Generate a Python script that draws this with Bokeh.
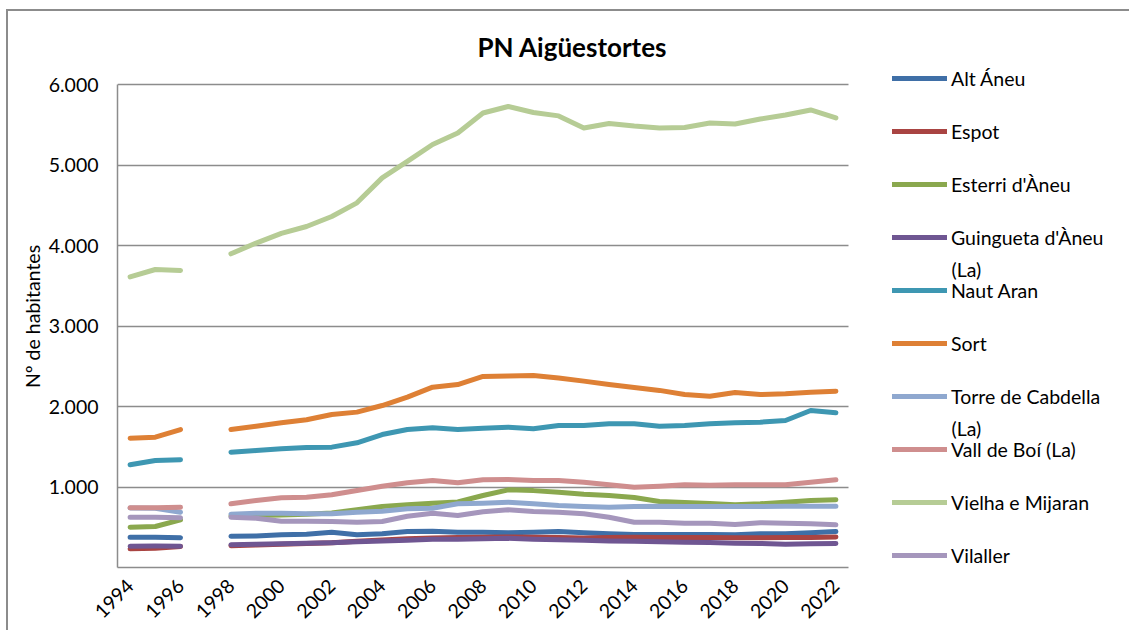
import math
from bokeh.plotting import figure
from bokeh.models import Range1d, FixedTicker, Legend, LegendItem, Label
from bokeh.embed import file_html
from bokeh.resources import INLINE

NA = float("nan")
years = list(range(1994, 2023))

alt_aneu = [377, 377, 369, NA, 389, 392, 406, 414, 439, 406, 418, 447, 451, 439, 437,
            431, 439, 447, 431, 418, 410, 410, 410, 410, 406, 418, 418, 431, 447]
espot = [232, 240, 262, NA, 270, 280, 290, 298, 308, 325, 343, 358, 368, 372, 375,
         380, 375, 372, 368, 372, 376, 374, 372, 374, 370, 370, 372, 374, 380]
esterri_daneu = [501, 509, 592, NA, 640, 645, 652, 660, 678, 717, 758, 779, 799, 815, 894,
                 965, 955, 935, 910, 894, 870, 820, 808, 795, 780, 791, 811, 832, 841]
guingueta_daneu = [265, 268, 265, NA, 282, 290, 296, 302, 308, 320, 330, 340, 350, 352, 358,
                   362, 352, 345, 338, 330, 325, 320, 315, 312, 302, 298, 290, 296, 298]
naut_aran = [1276, 1329, 1338, NA, 1433, 1453, 1474, 1490, 1495, 1549, 1652, 1714, 1735, 1714, 1731,
             1743, 1723, 1764, 1764, 1785, 1785, 1755, 1764, 1785, 1797, 1805, 1826, 1950, 1922]
sort = [1606, 1619, 1714, NA, 1714, 1755, 1797, 1835, 1900, 1930, 2012, 2116, 2240, 2273, 2373,
        2380, 2385, 2355, 2315, 2273, 2236, 2200, 2149, 2128, 2174, 2149, 2157, 2178, 2190]
torre_de_cabdella = [740, 735, 687, NA, 662, 675, 675, 667, 667, 687, 700, 729, 737, 791, 799,
                     811, 791, 770, 758, 749, 758, 762, 758, 758, 758, 758, 762, 762, 762]
vall_de_boi = [741, 741, 749, NA, 791, 832, 866, 873, 903, 957, 1010, 1052, 1081, 1052, 1089,
               1093, 1081, 1081, 1060, 1027, 998, 1010, 1027, 1022, 1027, 1027, 1027, 1060, 1089]
vielha_e_mijaran = [3610, 3702, 3690, NA, 3897, 4030, 4150, 4236, 4360, 4530, 4840, 5045, 5255, 5398, 5646,
                    5727, 5652, 5610, 5460, 5515, 5484, 5460, 5466, 5522, 5509, 5571, 5621, 5684, 5584]
vilaller = [625, 625, 617, NA, 625, 613, 575, 575, 571, 563, 571, 637, 675, 646, 692,
            717, 696, 687, 667, 625, 563, 563, 551, 551, 534, 555, 551, 542, 530]

series_names = ["Alt Áneu", "Espot", "Esterri d'Àneu", "Guingueta d'Àneu (La)", "Naut Aran",
                "Sort", "Torre de Cabdella (La)", "Vall de Boí (La)", "Vielha e Mijaran", "Vilaller"]
series_values = [alt_aneu, espot, esterri_daneu, guingueta_daneu, naut_aran,
                 sort, torre_de_cabdella, vall_de_boi, vielha_e_mijaran, vilaller]
series_colors = ["#3F6FA7", "#A94442", "#8AA84E", "#6F5692", "#3E97B2",
                 "#DE8035", "#8FA8CF", "#CF8E8E", "#B6CC95", "#A596BC"]

x_ticks = [1994, 1996, 1998, 2000, 2002, 2004, 2006, 2008, 2010, 2012, 2014, 2016, 2018, 2020, 2022]
x_tick_labels = ["1994", "1996", "1998", "2000", "2002", "2004", "2006", "2008",
                 "2010", "2012", "2014", "2016", "2018", "2020", "2022"]
y_ticks = [0, 1000, 2000, 3000, 4000, 5000, 6000]
y_tick_labels = ["", "1.000", "2.000", "3.000", "4.000", "5.000", "6.000"]

title_text = "PN Aigüestortes"
y_axis_title = "Nº de habitantes"

# ---- layout constants (canvas pixels) ----
W, H = 1123, 621
PLOT_L, PLOT_T, PLOT_W, PLOT_H = 109, 73, 731, 483   # data area of the chart
X0, X1 = 1993.5, 2022.5
Y0, Y1 = 0, 6000
FT = 54                                              # frame top (room for legend top)
FL = PLOT_L
FW = W - FL
FB = H - (PLOT_T + PLOT_H)
FH = PLOT_H + (PLOT_T - FT)
X_END = X0 + (X1 - X0) * FW / PLOT_W
Y_END = Y0 + (Y1 - Y0) * FH / PLOT_H

FONT = "Lato"
FS = "19.5px"
GRAY = "#8c8c8c"

p = figure(width=W, height=H, output_backend="svg", toolbar_location=None,
           x_range=Range1d(X0, X_END), y_range=Range1d(Y0, Y_END),
           min_border_left=FL, min_border_right=0, min_border_top=FT, min_border_bottom=FB)
p.margin = (9, 0, 0, 6)
p.styles = {"border-left": "2px solid #8c8c8c", "border-top": "2px solid #8c8c8c"}
p.outline_line_color = None
p.background_fill_color = "white"
p.border_fill_color = "white"

p.title.text = title_text
p.title.align = "left"
p.title.offset = 360
p.title.standoff = 6
p.title.text_font = FONT
p.title.text_font_size = "26px"
p.title.text_font_style = "bold"
p.title.text_color = "black"

p.xgrid.visible = False
p.yaxis.ticker = FixedTicker(ticks=y_ticks)
p.ygrid.ticker = FixedTicker(ticks=y_ticks)
p.ygrid.grid_line_color = GRAY
p.ygrid.grid_line_width = 1.5
p.ygrid.bounds = (Y0, Y1)
p.ygrid.cross_bounds = (X0, X1)
p.yaxis.major_label_overrides = dict(zip(y_ticks, y_tick_labels))
p.yaxis.bounds = (Y0, Y1)
p.xaxis.ticker = FixedTicker(ticks=x_ticks)
p.xaxis.major_label_overrides = dict(zip(x_ticks, x_tick_labels))
p.xaxis.major_label_orientation = math.pi / 4
p.xaxis.bounds = (X0, X1)

for ax in (p.xaxis[0], p.yaxis[0]):
    ax.axis_line_color = GRAY
    ax.axis_line_width = 1.5
    ax.major_tick_line_color = None
    ax.minor_tick_line_color = None
    ax.major_tick_out = 0
    ax.major_tick_in = 0
    ax.major_label_text_font = FONT
    ax.major_label_text_font_size = FS
    ax.major_label_text_color = "black"

p.yaxis.major_label_standoff = 19
p.xaxis.major_label_standoff = 15
p.yaxis.axis_label = y_axis_title
p.yaxis.axis_label_text_font = FONT
p.yaxis.axis_label_text_font_size = FS
p.yaxis.axis_label_text_font_style = "normal"
p.yaxis.axis_label_text_color = "black"
p.yaxis.axis_label_standoff = 2


def px_to_x(px):
    return X0 + (px - PLOT_L) / PLOT_W * (X1 - X0)


def px_to_y(py):
    return Y0 + (PLOT_T + PLOT_H - py) / PLOT_H * (Y1 - Y0)


# ---- legend geometry (canvas pixels) ----
ITEM_H, SPACING = 24, 29
PITCH = ITEM_H + SPACING
LEG_TOP = 55
GLYPH_X = 884
GLYPH_W = 55
STANDOFF = 4
SECOND_LINE = 32

items = []
extra_lines = []
for i, (name, vals, col) in enumerate(zip(series_names, series_values, series_colors)):
    r = p.line(years, vals, line_color=col, line_width=5, line_cap="round", line_join="round")
    label = name
    if len(name) > 18:
        head, tail = name.rsplit(" ", 1)
        label = head
        extra_lines.append((i, tail))
    items.append(LegendItem(label=label, renderers=[r]))

frame_bottom = FT + FH
n = len(items)
leg_h = n * ITEM_H + (n - 1) * SPACING
legend = Legend(items=items, location=(GLYPH_X - FL, frame_bottom - (LEG_TOP + leg_h)),
                orientation="vertical", glyph_width=GLYPH_W, glyph_height=ITEM_H,
                label_height=ITEM_H, spacing=SPACING, padding=0, margin=0,
                label_standoff=STANDOFF, border_line_color=None, background_fill_alpha=0,
                label_text_font=FONT, label_text_font_size=FS, label_text_color="black")
p.add_layout(legend)

for i, tail in extra_lines:
    cy = LEG_TOP + i * PITCH + ITEM_H / 2 + SECOND_LINE
    p.add_layout(Label(x=px_to_x(GLYPH_X + GLYPH_W + STANDOFF), y=px_to_y(cy), text=tail,
                       text_align="left", text_baseline="middle", text_font=FONT,
                       text_font_size=FS, text_color="black"))

open("out.html", "w").write(file_html(p, INLINE))
